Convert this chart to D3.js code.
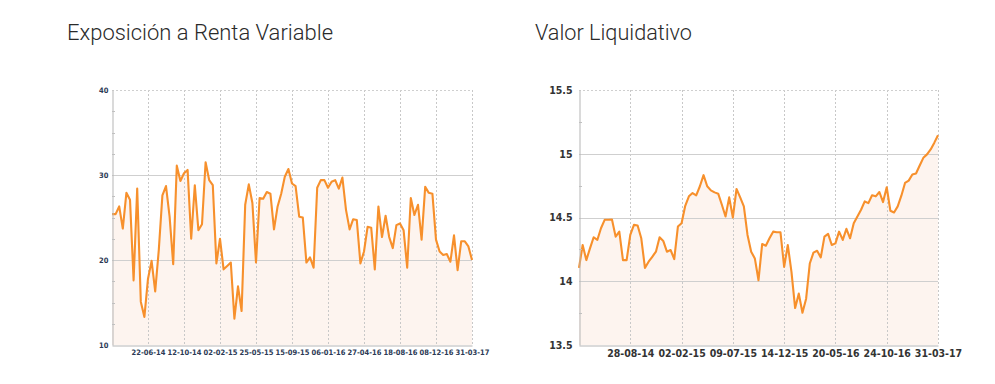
<!DOCTYPE html>
<html><head><meta charset="utf-8">
<script src="https://cdn.jsdelivr.net/npm/d3@7/dist/d3.min.js"></script>
<style>
body{margin:0;background:#fff;}
svg{display:block;}
</style></head>
<body><svg id="c" width="995" height="384"></svg>
<script>
// ---- Data ----
const expoTitle = "Exposición a Renta Variable";
const expoValues = [25.4,25.4,26.3,23.7,27.9,27.1,17.6,28.4,15.1,13.3,
  17.8,19.9,16.3,21.2,27.6,28.7,25.1,19.5,31.1,29.3,
  30.2,30.6,22.5,28.8,23.5,24.2,31.5,29.4,28.8,19.6,
  22.5,18.9,19.3,19.7,13.1,16.9,14.0,26.5,28.9,26.7,
  19.7,27.3,27.2,28.0,27.8,23.6,26.3,27.8,29.8,30.7,
  29.0,28.7,25.1,25.0,19.7,20.3,19.1,28.5,29.4,29.4,
  28.5,29.2,29.4,28.4,29.7,25.9,23.6,24.8,24.7,19.6,
  21.0,23.9,23.8,18.9,26.3,22.7,25.2,22.7,21.4,24.1,
  24.3,23.5,19.1,27.3,25.3,26.5,22.4,28.6,27.9,27.8,
  22.4,21.0,20.6,20.7,19.8,22.9,18.8,22.2,22.2,21.6,20.0];
const expoTickLabels = ["22-06-14","12-10-14","02-02-15","25-05-15","15-09-15","06-01-16","27-04-16","18-08-16","08-12-16","31-03-17"];
const expoTickIndex = [10,20,30,40,50,60,70,80,90,100];
const expoYTicks = [10,20,30,40];

const vlTitle = "Valor Liquidativo";
const vlValues = [14.105,14.284,14.166,14.258,14.345,14.324,14.416,14.482,14.482,14.484,
  14.35,14.39,14.166,14.166,14.363,14.442,14.437,14.337,14.105,14.153,
  14.192,14.232,14.345,14.316,14.232,14.245,14.174,14.429,14.455,14.592,
  14.666,14.692,14.674,14.745,14.832,14.745,14.713,14.697,14.687,14.6,
  14.508,14.658,14.5,14.724,14.658,14.587,14.363,14.232,14.179,14.008,
  14.292,14.279,14.337,14.389,14.384,14.384,14.113,14.284,14.074,13.79,
  13.903,13.753,13.863,14.139,14.224,14.239,14.187,14.35,14.371,14.284,
  14.297,14.389,14.324,14.411,14.337,14.455,14.508,14.561,14.626,14.613,
  14.674,14.666,14.7,14.621,14.737,14.553,14.539,14.587,14.671,14.771,
  14.789,14.837,14.845,14.908,14.968,14.995,15.034,15.087,15.145];
const vlTickLabels = ["28-08-14","02-02-15","09-07-15","14-12-15","20-05-16","24-10-16","31-03-17"];
const vlTickIndex = [14,28,42,56,70,84,98];
const vlYTicks = [13.5,14,14.5,15,15.5];

const svg = d3.select("#c");
const LINE = "#f7902c";
const FILL = "#fdf4ef";

function chart(o){
  const g = svg.append("g");
  const x = d3.scaleLinear().domain([0, o.values.length-1]).range([o.x0, o.x1]);
  const y = d3.scaleLinear().domain(o.yDomain).range([o.y1, o.y0]);

  // title
  svg.append("text").attr("x", o.tx).attr("y", 40)
    .attr("font-family","Roboto, Lato, sans-serif").attr("font-weight",300)
    .attr("font-size",22).attr("fill","#2a2a2a")
    .attr("textLength", o.tw).attr("lengthAdjust","spacingAndGlyphs")
    .text(o.title);

  // area
  g.append("path").datum(o.values)
    .attr("fill", FILL)
    .attr("d", d3.area().x((d,i)=>x(i)).y0(o.y1).y1(d=>y(d)));

  // vertical grid
  g.selectAll(".vg").data(o.tickIndex).join("line")
    .attr("x1",d=>Math.round(x(d))+0.5).attr("x2",d=>Math.round(x(d))+0.5).attr("y1",o.y0).attr("y2",o.y1)
    .attr("stroke","#c8c8c8").attr("stroke-width",1).attr("stroke-dasharray","2,2");
  // horizontal grid
  g.selectAll(".hg").data(o.yTicks.slice(1)).join("line")
    .attr("x1",o.x0).attr("x2",o.x1).attr("y1",d=>Math.round(y(d))+0.5).attr("y2",d=>Math.round(y(d))+0.5)
    .attr("stroke","#cfcfcf").attr("stroke-width",1)
    .attr("stroke-dasharray",(d,i)=> i===o.yTicks.length-2 ? "2,2" : null);
  // right border
  g.append("line").attr("x1",o.x1+0.5).attr("x2",o.x1+0.5).attr("y1",o.y0).attr("y2",o.y1)
    .attr("stroke","#c8c8c8").attr("stroke-dasharray","2,2");

  // line
  g.append("path").datum(o.values)
    .attr("fill","none").attr("stroke",LINE).attr("stroke-width",2.1)
    .attr("stroke-linejoin","round")
    .attr("d", d3.line().x((d,i)=>x(i)).y(d=>y(d)));

  // y axis
  const ya = d3.axisLeft(y).tickValues(o.yTicks).tickSize(0).tickPadding(o.yPad).tickFormat(d=>String(d));
  const yg = g.append("g").attr("transform",`translate(${o.x0+0.5},0)`).call(ya);
  yg.select(".domain").attr("stroke","#b5b5b5");
  yg.selectAll("text").attr("font-family","'DejaVu Sans Condensed', 'DejaVu Sans', sans-serif")
    .attr("font-weight","bold").attr("font-size",o.fs).attr("fill",o.labelColor);
  // minor ticks
  g.selectAll(".mt").data(o.minor).join("line")
    .attr("x1",o.x0).attr("x2",o.x0+3).attr("y1",d=>Math.round(y(d))+0.5).attr("y2",d=>Math.round(y(d))+0.5)
    .attr("stroke","#c0c0c0");

  // x axis
  const xa = d3.axisBottom(x).tickValues(o.tickIndex).tickSize(0).tickPadding(o.xPad)
    .tickFormat((d,i)=>o.tickLabels[i]);
  const xg = g.append("g").attr("transform",`translate(0,${o.y1+0.5})`).call(xa);
  xg.select(".domain").attr("stroke","#b5b5b5");
  xg.selectAll("text").attr("font-family","'DejaVu Sans Condensed', 'DejaVu Sans', sans-serif")
    .attr("font-weight","bold").attr("font-size",o.fs).attr("fill",o.labelColor);
}

chart({title:expoTitle, tx:67, tw:266, values:expoValues, tickIndex:expoTickIndex, tickLabels:expoTickLabels,
  yTicks:expoYTicks, yDomain:[10,40], minor:[12.5,15,17.5,22.5,25,27.5,32.5,35,37.5],
  x0:112, x1:472, y0:90, y1:345, fs:7.5, labelColor:"#2c3a55", yPad:4, xPad:4});

chart({title:vlTitle, tx:535, tw:157, values:vlValues, tickIndex:vlTickIndex, tickLabels:vlTickLabels,
  yTicks:vlYTicks, yDomain:[13.5,15.5], minor:[13.75,14.25,14.75,15.25],
  x0:579, x1:938, y0:90, y1:345, fs:10.5, labelColor:"#333", yPad:7, xPad:4});
</script>
</body></html>
